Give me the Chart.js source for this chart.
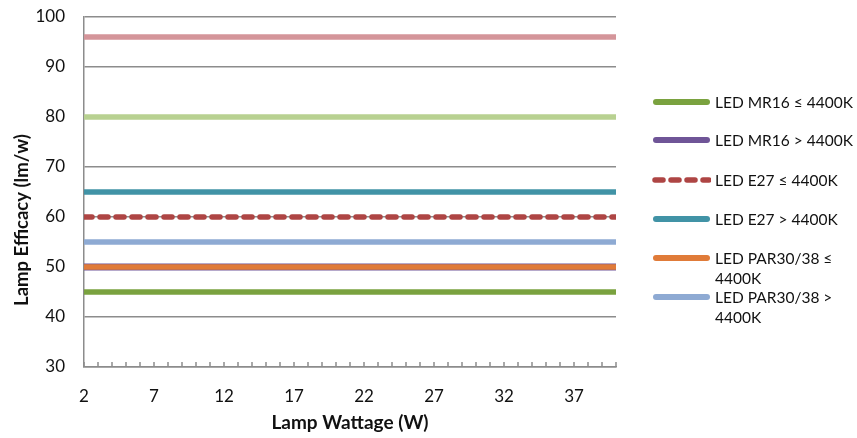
<!DOCTYPE html>
<html>
<head>
<meta charset="utf-8">
<script src="https://cdn.jsdelivr.net/npm/chart.js@4.4.1/dist/chart.umd.min.js"></script>
<style>
  html, body { margin: 0; padding: 0; background: #fff; }
  #wrap { position: relative; width: 857px; height: 438px; }
  #legend { position: absolute; left: 653px; top: 0; font-family: Lato, sans-serif; font-size: 15.5px; color: #111; }
  .item { position: absolute; left: 0; white-space: pre-line; line-height: 20px; }
  .swatch { position: absolute; left: 0; width: 57px; height: 6px; top: 7px; border-radius: 3px; }
  .txt { position: absolute; left: 62px; top: 0; white-space: pre; }
</style>
</head>
<body>
<div id="wrap">
  <canvas id="myChart" width="857" height="438"></canvas>
  <div id="legend"></div>
</div>
<script>
// wattage span covered by each line
const wattage = [2, 40];
const xTickLabels = [2, 7, 12, 17, 22, 27, 32, 37];
const yTicks = [30, 40, 50, 60, 70, 80, 90, 100];

// efficacy (lm/W) at each end of the span
const mr16Low = [45, 45];
const mr16High = [50, 50];
const e27Low = [60, 60];
const e27High = [65, 65];
const parLow = [50, 50];
const parHigh = [55, 55];
const upperBand = [96, 96];
const midBand = [80, 80];

const legendTops = [92, 130, 170, 209, 248, 287];

function pts(vals) {
  return vals.map((v, i) => ({ x: wattage[i], y: v }));
}

function serie(label, vals, color, order, extra) {
  return Object.assign({
    label: label,
    data: pts(vals),
    borderColor: color,
    backgroundColor: color,
    borderWidth: 5.5,
    borderCapStyle: 'round',
    pointRadius: 0,
    fill: false,
    order: order
  }, extra || {});
}

const datasets = [
  serie('LED MR16 ≤ 4400K', mr16Low, '#7aa23f', 5),
  serie('LED MR16 > 4400K', mr16High, '#6f5597', 7, { borderWidth: 7 }),
  serie('LED E27 ≤ 4400K', e27Low, '#ae4544', 2, { borderDash: [8, 8] }),
  serie('LED E27 > 4400K', e27High, '#4193a6', 3),
  serie('LED PAR30/38 ≤\n4400K', parLow, '#e07b39', 4),
  serie('LED PAR30/38 >\n4400K', parHigh, '#8eaad3', 6),
  serie('Upper band', upperBand, '#d4959a', 8, { hideInLegend: true }),
  serie('Mid band', midBand, '#b8d191', 9, { hideInLegend: true })
];

// small tick marks pointing up from the x axis
const innerTicks = {
  id: 'innerTicks',
  beforeDatasetsDraw(chart) {
    const x = chart.scales.x;
    const bottom = chart.chartArea.bottom;
    const ctx = chart.ctx;
    ctx.save();
    ctx.strokeStyle = '#8c8c8c';
    ctx.lineWidth = 1.5;
    x.ticks.forEach(t => {
      const px = x.getPixelForValue(t.value);
      ctx.beginPath();
      ctx.moveTo(px, bottom);
      ctx.lineTo(px, bottom - 5);
      ctx.stroke();
    });
    ctx.restore();
  }
};

// y axis title sits a bit below the middle of the axis
const yTitle = {
  id: 'yTitle',
  afterDraw(chart) {
    const ctx = chart.ctx;
    ctx.save();
    ctx.translate(22, 220);
    ctx.rotate(-Math.PI / 2);
    ctx.font = 'bold 18.5px Lato, sans-serif';
    ctx.fillStyle = '#111';
    ctx.textAlign = 'center';
    ctx.textBaseline = 'middle';
    ctx.fillText('Lamp Efficacy (lm/w)', 0, 0);
    ctx.restore();
  }
};

const ctx = document.getElementById('myChart');
const chart = new Chart(ctx, {
  type: 'line',
  data: { datasets: datasets },
  plugins: [innerTicks, yTitle],
  options: {
    responsive: false,
    animation: false,
    layout: { padding: { top: 17, right: 241, left: 0, bottom: 0 } },
    plugins: {
      legend: { display: false },
      tooltip: { enabled: false }
    },
    scales: {
      x: {
        type: 'linear',
        min: 2,
        max: 40,
        afterFit: s => { s.height = 71; },
        grid: { display: false, drawTicks: false },
        border: { display: true, color: '#8c8c8c', width: 1.5 },
        ticks: {
          stepSize: 1,
          autoSkip: false,
          maxRotation: 0,
          padding: 19,
          color: '#111',
          font: { family: 'Lato', size: 17 },
          callback: v => xTickLabels.includes(v) ? String(v) : ''
        },
        title: {
          display: true,
          text: 'Lamp Wattage (W)',
          color: '#111',
          font: { family: 'Lato', size: 19, weight: 'bold' },
          padding: { top: 4 }
        }
      },
      y: {
        min: 30,
        max: 100,
        afterFit: s => { s.width = 84; s.paddingTop = 0; s.paddingBottom = 0; },
        afterBuildTicks: s => { s.ticks = yTicks.map(v => ({ value: v })); },
        grid: { color: '#8c8c8c', lineWidth: 1.5, drawTicks: false },
        border: { display: true, color: '#8c8c8c', width: 1.5 },
        ticks: {
          padding: 19,
          color: '#111',
          font: { family: 'Lato', size: 17 }
        }
      }
    }
  }
});

// legend for the six lamp series
const legend = document.getElementById('legend');
datasets.filter(d => !d.hideInLegend).forEach((d, i) => {
  const item = document.createElement('div');
  item.className = 'item';
  item.style.top = legendTops[i] + 'px';
  let sw;
  if (d.borderDash) {
    sw = document.createElement('canvas');
    sw.width = 60; sw.height = 10;
    sw.style.position = 'absolute';
    sw.style.left = '-2px';
    sw.style.top = '5px';
    const c = sw.getContext('2d');
    c.strokeStyle = d.borderColor;
    c.lineWidth = 5.5;
    c.lineCap = 'round';
    c.setLineDash([8, 8]);
    c.beginPath();
    c.moveTo(4, 5);
    c.lineTo(58, 5);
    c.stroke();
  } else {
    sw = document.createElement('div');
    sw.className = 'swatch';
    sw.style.background = d.borderColor;
  }
  const txt = document.createElement('div');
  txt.className = 'txt';
  txt.textContent = d.label;
  item.appendChild(sw);
  item.appendChild(txt);
  legend.appendChild(item);
});
</script>
</body>
</html>
